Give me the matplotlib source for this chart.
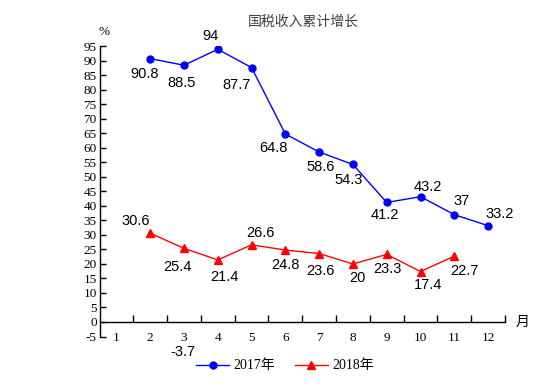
import matplotlib
matplotlib.use("Agg")
import matplotlib.pyplot as plt
from matplotlib.ticker import FixedLocator, NullFormatter

plt.rcParams["axes.unicode_minus"] = False

months = [1, 2, 3, 4, 5, 6, 7, 8, 9, 10, 11, 12]
m2017 = [2, 3, 4, 5, 6, 7, 8, 9, 10, 11, 12]
v2017 = [90.8, 88.5, 94, 87.7, 64.8, 58.6, 54.3, 41.2, 43.2, 37, 33.2]
m2018 = [2, 3, 4, 5, 6, 7, 8, 9, 10, 11]
v2018 = [30.6, 25.4, 21.4, 26.6, 24.8, 23.6, 20, 23.3, 17.4, 22.7]
extra_month = [3]
extra_value = [-3.7]
series_names = ["2017年", "2018年"]
title = "国税收入累计增长"

# label offsets in pixels (dx, dy)
off2017 = [(-6, -15), (-2, -18), (-7, 13), (-15, -17), (-12, -14), (1, -15),
           (-4, -16), (-2, -13), (7, 10), (7, 14), (12, 12)]
off2018 = [(-14, 12), (-7, -19), (7, -17), (9, 12), (0, -15), (1, -17),
           (4, -14), (1, -15), (8, -13), (10, -15)]
off_extra = [(-1, -19)]

serif = ["Liberation Serif", "Noto Sans CJK SC"]
cjk = ["Noto Sans CJK SC", "DejaVu Sans"]
sans = ["Liberation Sans", "DejaVu Sans"]

fig = plt.figure(figsize=(5.54, 3.92), dpi=100)
ax = fig.add_axes([99.5 / 554, 55.5 / 392, (505 - 99.5) / 554, (336.5 - 46.4) / 392])

ax.plot(m2017, v2017, color="#0000FF", lw=1.0, marker="o", ms=5, label=series_names[0])
ax.plot(m2018, v2018, color="#FF0000", lw=1.0, marker="^", ms=5.5, label=series_names[1])

for m, v, (dx, dy) in zip(m2017, v2017, off2017):
    ax.annotate(f"{v:g}", (m, v), xytext=(dx, dy), textcoords="offset pixels",
                ha="center", va="center", fontsize=10.5, family=sans, color="black")
for m, v, (dx, dy) in zip(m2018, v2018, off2018):
    ax.annotate(f"{v:g}", (m, v), xytext=(dx, dy), textcoords="offset pixels",
                ha="center", va="center", fontsize=10.5, family=sans, color="black")
for m, v, (dx, dy) in zip(extra_month, extra_value, off_extra):
    ax.annotate(f"{v:g}", (m, v), xytext=(dx, dy), textcoords="offset pixels",
                ha="center", va="center", fontsize=10.5, family=sans, color="black",
                annotation_clip=False)

ax.set_xlim(0.5, 12.5)
ax.set_ylim(-5, 95)

ax.spines["top"].set_visible(False)
ax.spines["right"].set_visible(False)
ax.spines["bottom"].set_position(("data", 0))
for s in ("left", "bottom"):
    ax.spines[s].set_linewidth(1.0)
    ax.spines[s].set_color("black")

ax.set_yticks(list(range(-5, 96, 5)))
ax.tick_params(axis="y", direction="in", length=4, width=1, pad=2, labelsize=9.5)
for lab in ax.get_yticklabels():
    lab.set_family(serif)

ax.set_xticks(months)
ax.set_xticklabels([str(m) for m in months])
ax.xaxis.set_minor_locator(FixedLocator([m + 0.5 for m in months]))
ax.xaxis.set_minor_formatter(NullFormatter())
ax.tick_params(axis="x", which="major", length=0, pad=7, labelsize=9.5)
ax.tick_params(axis="x", which="minor", direction="in", length=5, width=1)
for lab in ax.get_xticklabels():
    lab.set_family(serif)

fig.text(303 / 554, 1 - 22 / 392, title, ha="center", va="center", fontsize=10,
         family=cjk, color="#404040")
fig.text(104 / 554, 1 - 32 / 392, "%", ha="center", va="center", fontsize=9.5, family=serif)
fig.text(523 / 554, 1 - 322 / 392, "月", ha="center", va="center", fontsize=10, family=cjk)

leg = fig.legend(loc="center", bbox_to_anchor=(285 / 554, 1 - 366 / 392), ncol=2,
                 frameon=False, prop={"family": serif, "size": 10},
                 handlelength=2.4, columnspacing=1.4, handletextpad=0.3)

fig.savefig("out.png", dpi=100)
